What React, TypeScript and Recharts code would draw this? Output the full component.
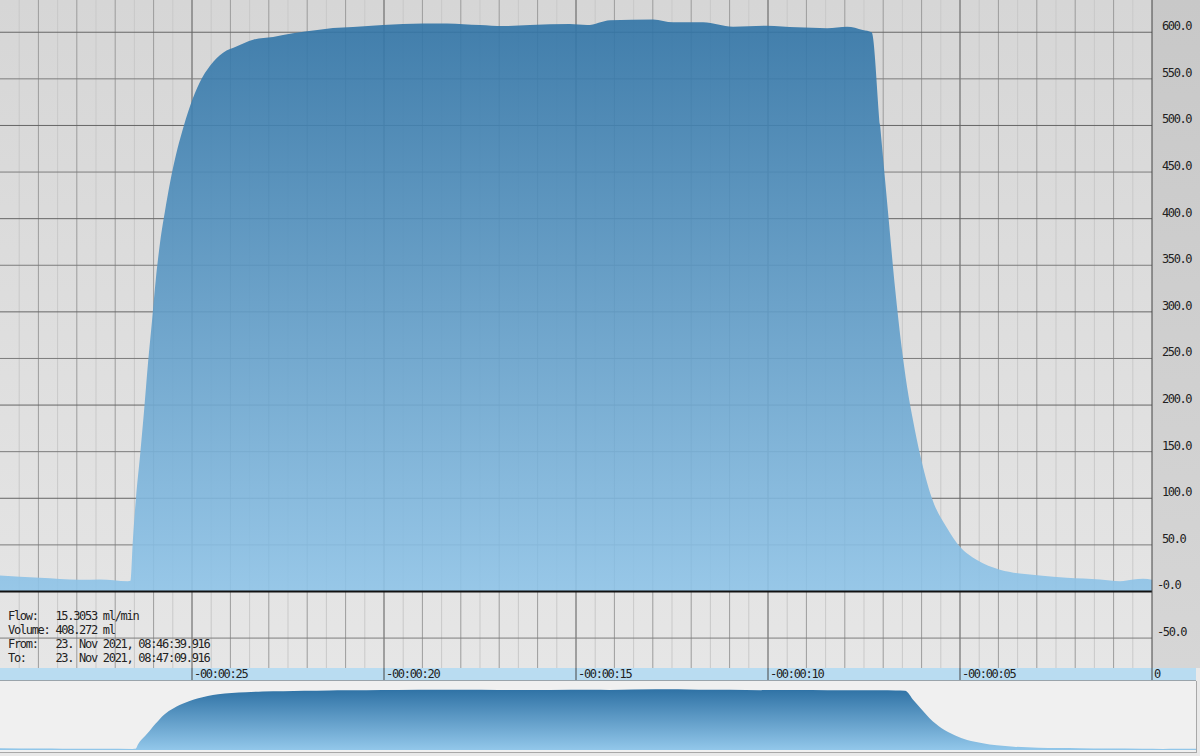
import { Area, AreaChart, CartesianGrid, ReferenceLine, XAxis, YAxis } from 'recharts';

// seconds relative to "now", flow in ml/min
const TIMES = [
  -30.0, -28.96, -28.44, -27.92, -27.4, -26.67, -26.6, -26.54, -26.46, -26.35, -26.25, -26.15,
  -26.04, -25.94, -25.83, -25.7, -25.57, -25.42, -25.26, -25.05, -24.79, -24.53, -24.19, -23.83,
  -23.41, -22.89, -22.37, -21.74, -21.33, -20.81, -20.03, -18.98, -18.36, -17.5, -16.9, -16.2,
  -15.16, -14.71, -14.11, -12.99, -12.47, -11.69, -10.91, -10.03, -9.24, -8.46, -7.94, -7.53,
  -7.3, -7.08, -6.87, -6.69, -6.52, -6.38, -6.22, -6.04, -5.74, -5.35, -5.0, -4.57, -3.96, -3.44,
  -2.92, -2.22, -1.35, -0.83, -0.49, -0.23, 0.0,
];
const FLOWS = [
  17.2, 14.7, 13.5, 12.6, 12.9, 11.1, 11.5, 55, 100, 147, 193, 243,
  291, 336, 375, 409, 439, 468, 493, 521, 547, 564, 578, 585,
  592, 595, 599, 602.5, 604.6, 605.6, 607.7, 609.5, 609.5, 607.7, 606.6, 607.7,
  608.8, 607.7, 613, 613.8, 610.6, 610.6, 605.9, 607, 605.3, 604.3, 605.9, 602.5,
  600, 500, 405, 325, 262, 220, 183, 147, 101, 69, 48, 34, 23.4, 19.3,
  17.2, 14.7, 12.9, 11, 12.9, 13.6, 12.5,
];

const Y_TICKS = [-50, 0, 50, 100, 150, 200, 250, 300, 350, 400, 450, 500, 550, 600];
const Y_LABELS = ['-50.0', '-0.0', '50.0', '100.0', '150.0', '200.0', '250.0', '300.0', '350.0', '400.0', '450.0', '500.0', '550.0', '600.0'];
const X_TICKS = [-25, -20, -15, -10, -5, 0];
const X_LABELS = ['-00:00:25', '-00:00:20', '-00:00:15', '-00:00:10', '-00:00:05', '0'];

const MAJOR_SECONDS = [-25, -20, -15, -10, -5];
const SECONDS = Array.from({ length: 29 }, (_, i) => -29 + i).filter((s) => s % 5 !== 0);
const HALF_SECONDS = Array.from({ length: 30 }, (_, i) => -29.5 + i);
const HUNDREDS = [-100, 100, 200, 300, 400, 500, 600];
const FIFTIES = [-50, 50, 150, 250, 350, 450, 550];

const INFO_LINES = [
  'Flow:   15.3053 ml/min',
  'Volume: 408.272 ml',
  'From:   23. Nov 2021, 08:46:39.916',
  'To:     23. Nov 2021, 08:47:09.916',
];

const data = TIMES.map((t, i) => ({ t, flow: FLOWS[i] }));

const MONO = '"DejaVu Sans Mono", monospace';

function YTick({ x, y, payload }: any) {
  const label = Y_LABELS[Y_TICKS.indexOf(payload.value)];
  const neg = label.startsWith('-');
  return (
    <text x={x + 10 - (neg ? 5 : 0)} y={y - 2} fontFamily={MONO} fontSize={12} letterSpacing={-1.4} fill="#222">
      {label}
    </text>
  );
}

function XTick({ x, y, payload }: any) {
  const label = X_LABELS[X_TICKS.indexOf(payload.value)];
  return (
    <text x={x + 2} y={y - 2} fontFamily={MONO} fontSize={12} letterSpacing={-1.3} fill="#222">
      {label}
    </text>
  );
}

export default function App(): JSX.Element {
  return (
    <div style={{ position: 'absolute', left: 0, top: 0, width: 1200, height: 756, background: '#e9e9e9', overflow: 'hidden' }}>
      <div style={{ position: 'absolute', left: 1152, top: 0, width: 48, height: 668, background: 'linear-gradient(#c8c8c8, #d6d6d6)' }} />
      <div style={{ position: 'absolute', left: 0, top: 668, width: 1196, height: 12, background: '#b9dcf1', borderBottom: '1px solid #9aa4ab' }} />
      <div style={{ position: 'absolute', left: 0, top: 681, width: 1196, height: 71, background: '#f0f0f0', borderBottom: '1px solid #a8a8a8', borderRight: '1px solid #a8a8a8' }} />

      <div style={{ position: 'absolute', left: 0, top: 0 }}>
        <AreaChart width={1200} height={680} data={data} margin={{ top: 0, right: 0, bottom: 0, left: 0 }}>
          <defs>
            <linearGradient id="plotBg" x1="0" y1="0" x2="0" y2="1">
              <stop offset="0%" stopColor="#d6d6d6" />
              <stop offset="100%" stopColor="#e6e6e6" />
            </linearGradient>
            <linearGradient id="flowFill" x1="0" y1="0" x2="0" y2="1">
              <stop offset="0%" stopColor="#3174a6" />
              <stop offset="100%" stopColor="#8fc4e8" />
            </linearGradient>
          </defs>
          <XAxis
            dataKey="t"
            type="number"
            domain={[-30, 0]}
            ticks={X_TICKS}
            height={12}
            axisLine={false}
            tickLine={{ stroke: '#444' }}
            tickSize={12}
            tickMargin={0}
            tick={<XTick />}
            allowDataOverflow
          />
          <YAxis
            orientation="right"
            width={48}
            type="number"
            domain={[-82.1, 634.6]}
            ticks={Y_TICKS}
            allowDataOverflow
            axisLine={{ stroke: '#444' }}
            tickLine={false}
            tickSize={0}
            tickMargin={0}
            tick={<YTick />}
          />
          <CartesianGrid fill="url(#plotBg)" stroke="#c9c9c9" horizontal={false} verticalValues={HALF_SECONDS} />
          <CartesianGrid stroke="#9c9c9c" horizontal={false} verticalValues={SECONDS} />
          <CartesianGrid stroke="#595959" horizontal={false} verticalValues={MAJOR_SECONDS} />
          <CartesianGrid stroke="#7c7c7c" vertical={false} horizontalValues={FIFTIES} />
          <CartesianGrid stroke="#666" vertical={false} horizontalValues={HUNDREDS} />
          <Area
            type="monotone"
            dataKey="flow"
            stroke="none"
            fill="url(#flowFill)"
            fillOpacity={0.9}
            dot={false}
            activeDot={false}
            isAnimationActive={false}
          />
          <ReferenceLine y={0} stroke="#111" strokeWidth={2} />
        </AreaChart>
      </div>

      <pre
        style={{
          position: 'absolute',
          left: 8,
          top: 609,
          margin: 0,
          fontFamily: MONO,
          fontSize: 12,
          letterSpacing: -1.3,
          lineHeight: '14px',
          color: '#222',
        }}
      >
        {INFO_LINES.join('\n')}
      </pre>

      <div style={{ position: 'absolute', left: 0, top: 683 }}>
        <AreaChart width={1196} height={67} data={data} margin={{ top: 0, right: 0, bottom: 0, left: 0 }}>
          <defs>
            <linearGradient id="overviewFill" x1="0" y1="0" x2="0" y2="1">
              <stop offset="0%" stopColor="#2f72a5" />
              <stop offset="100%" stopColor="#92c7ea" />
            </linearGradient>
          </defs>
          <XAxis dataKey="t" type="number" domain={[-30, 0]} hide />
          <YAxis type="number" domain={[0, 678]} hide allowDataOverflow />
          <Area
            type="monotone"
            dataKey="flow"
            stroke="none"
            fill="url(#overviewFill)"
            fillOpacity={1}
            dot={false}
            activeDot={false}
            isAnimationActive={false}
          />
        </AreaChart>
      </div>
    </div>
  );
}
